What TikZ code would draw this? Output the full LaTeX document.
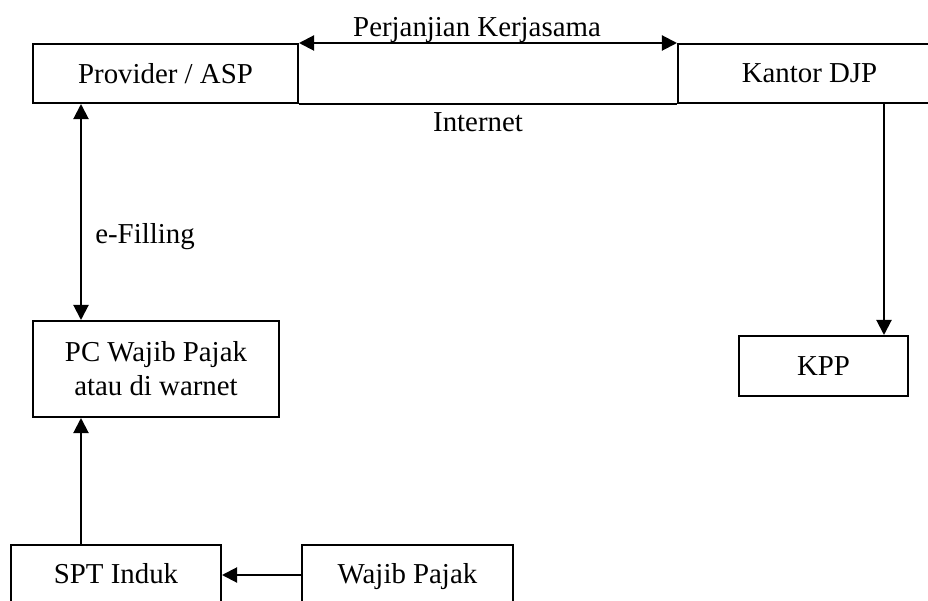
\documentclass[tikz,border=0pt]{standalone}
\usepackage{fontspec}
\setmainfont{Liberation Serif}
\usetikzlibrary{arrows.meta}

\newcommand{\px}{0.014cm}

\begin{document}
\begin{tikzpicture}[x=\px,y=-\px,
    kotak/.style={draw, line width=0.8pt, inner sep=0pt, align=center},
    panah/.style={line width=0.8pt, -{Triangle[length=6pt,width=6pt]}},
    dobel/.style={line width=0.8pt, {Triangle[length=6pt,width=6pt]}-{Triangle[length=6pt,width=6pt]}},
    every node/.append style={font=\fontsize{11.5}{13.6}\selectfont}]

  \useasboundingbox (0,0) rectangle (928,601);
  \clip (0,0) rectangle (928,601);

  % kotak atas
  \node[kotak, minimum width=265*\px, minimum height=59*\px] (prov) at (165.5,73.5) {Provider / ASP};
  \node[kotak, minimum width=263*\px, minimum height=59*\px] (kantor) at (809.5,73.5) {Kantor DJP};
  \draw[line width=0.8pt] (prov.south east) -- (kantor.south west);
  \draw[dobel] (prov.north east) -- (kantor.north west);
  \node (kerja) at (477,30) {Perjanjian Kerjasama};
  \node (inet) at (478,122) {Internet};

  % kotak tengah dan bawah
  \node[kotak, minimum width=246*\px, minimum height=96*\px] (pc) at (156,369) {PC Wajib Pajak\\atau di warnet};
  \node[kotak, minimum width=169*\px, minimum height=60*\px] (kpp) at (823.5,366) {KPP};
  \node[kotak, minimum width=210*\px, minimum height=60*\px, text height=0.9em, text depth=0.2em] (spt) at (116,575) {SPT Induk};
  \node[kotak, minimum width=211*\px, minimum height=60*\px, text height=0.9em, text depth=0.2em] (wajib) at (407.5,575) {Wajib Pajak};

  \coordinate (jalur) at (81,0);
  \coordinate (jalurkpp) at (884,0);

  \draw[dobel] (prov.south -| jalur) -- (pc.north -| jalur);
  \node (efil) at (145,237) {e-Filling};
  \draw[panah] (spt.north -| jalur) -- (pc.south -| jalur);
  \draw[panah] (wajib.west) -- (spt.east);
  \draw[panah] (kantor.south -| jalurkpp) -- (kpp.north -| jalurkpp);

\end{tikzpicture}
\end{document}
